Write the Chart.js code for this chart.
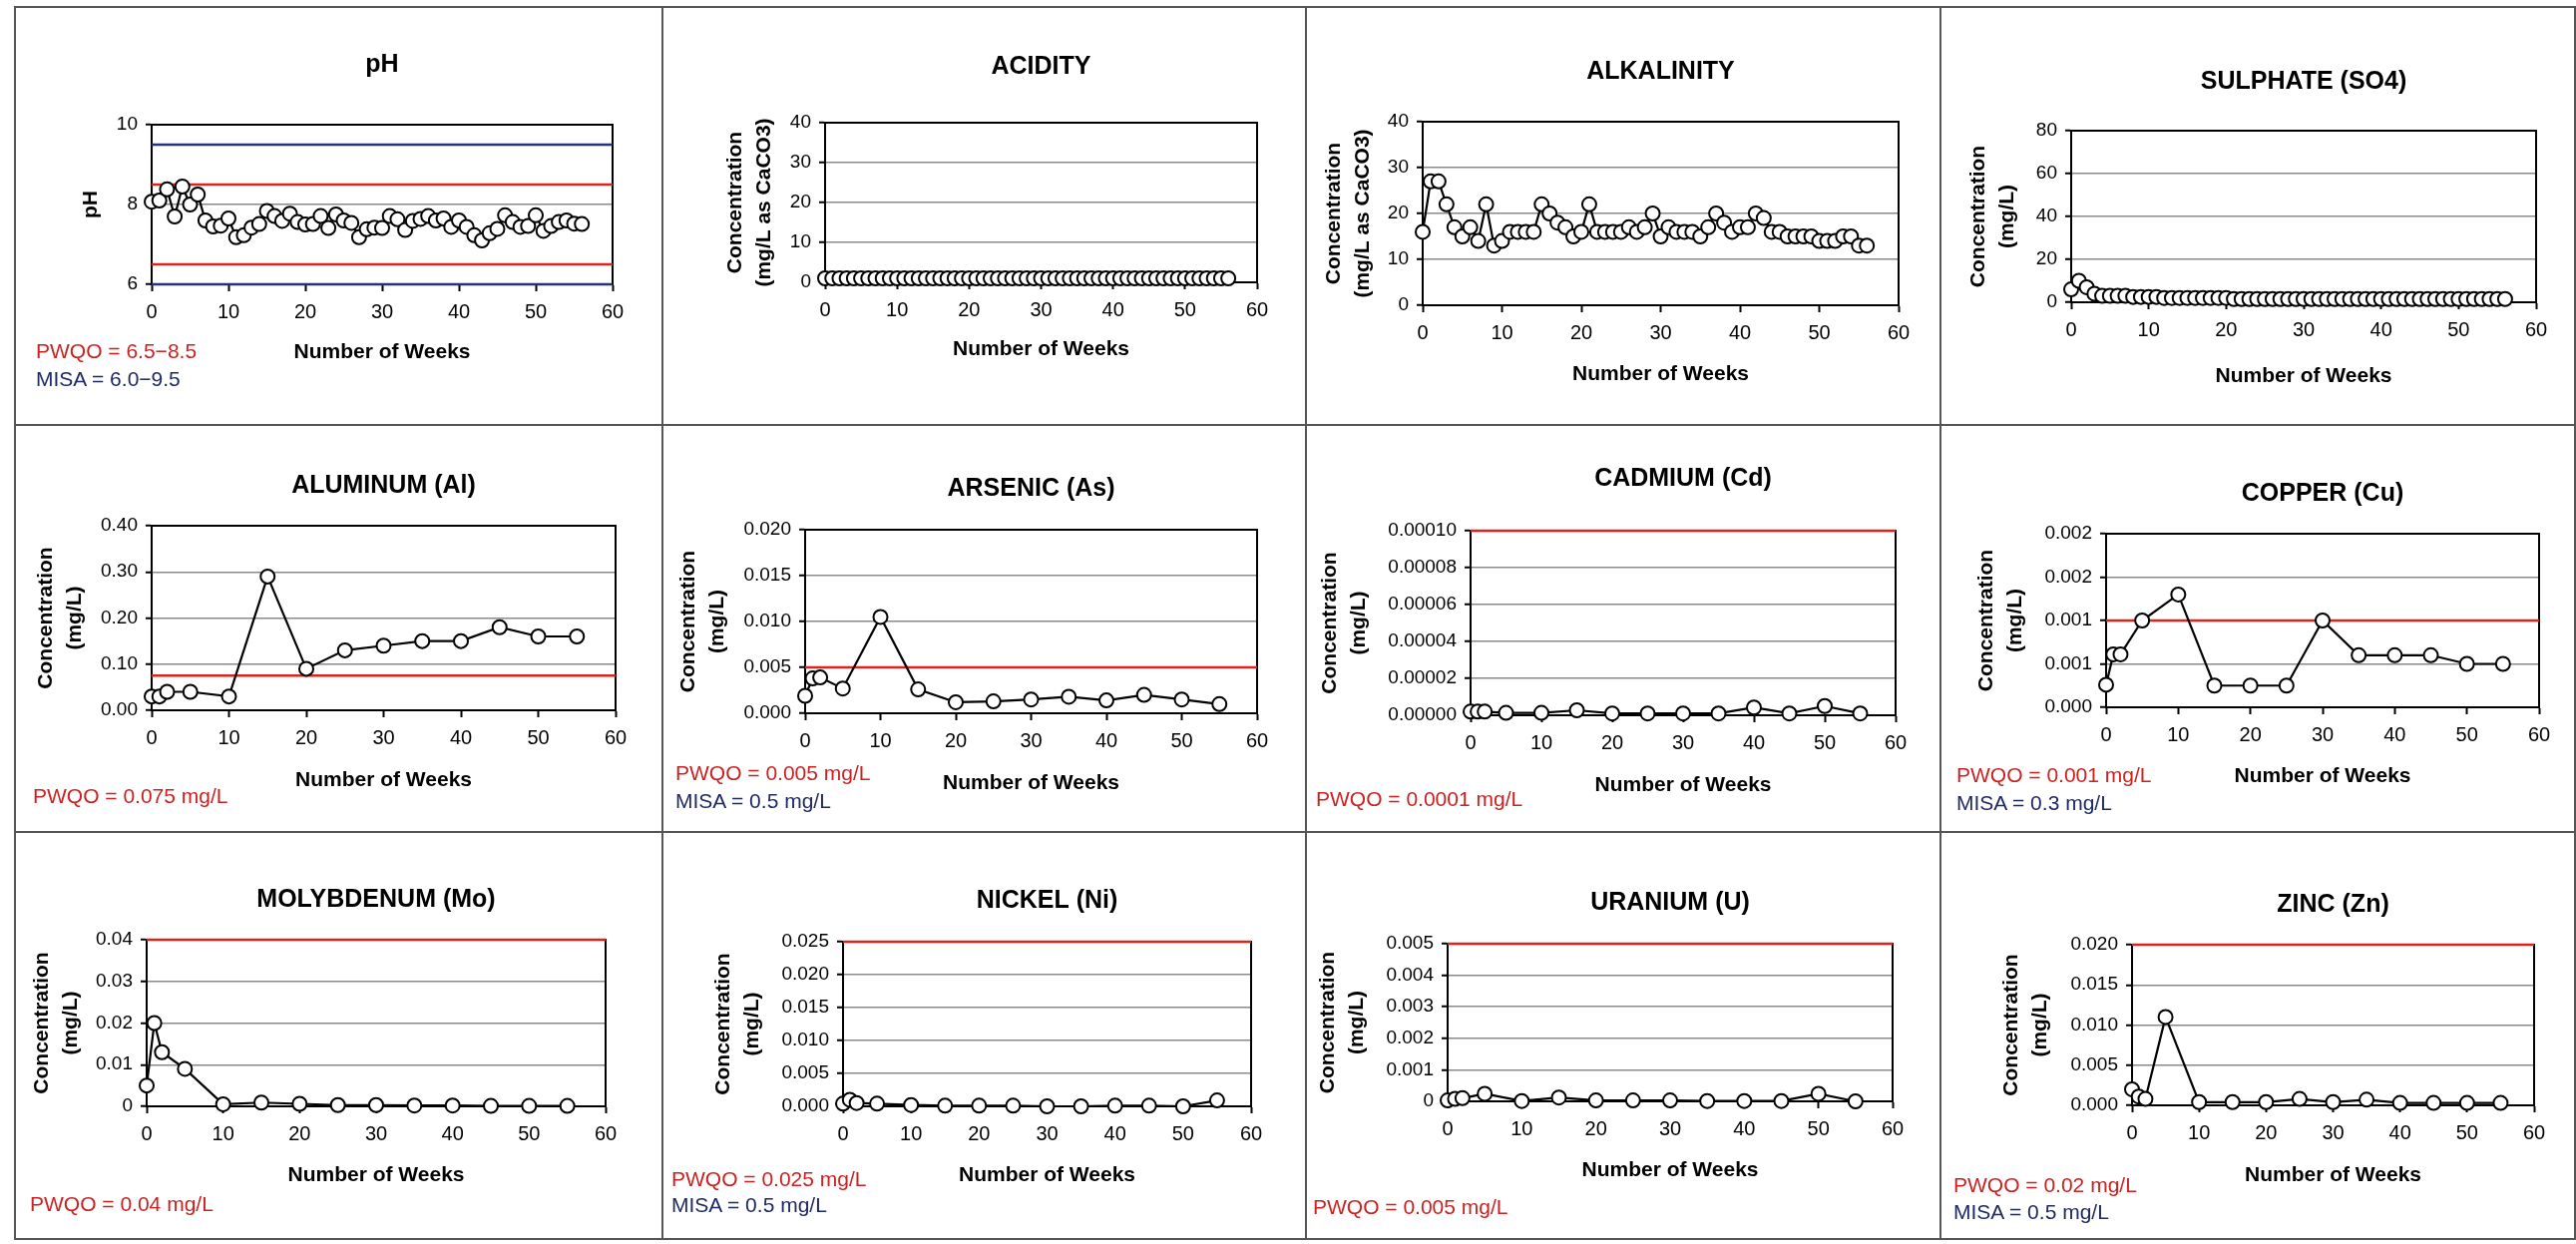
<!DOCTYPE html>
<html>
<head>
<meta charset="utf-8">
<title>Surface water monitoring results</title>
<script src="https://cdn.jsdelivr.net/npm/chart.js@4.4.1/dist/chart.umd.min.js"></script>
<style>
  html, body { margin: 0; padding: 0; background: #fff; }
  body { width: 2582px; height: 1247px; position: relative; overflow: hidden; font-family: "Liberation Sans", Arial, sans-serif; }
  #grid { position: absolute; left: 14px; top: 6px; width: 2566px; height: 1235px; border-left: 2px solid #555; border-top: 2px solid #555; }
  .panel { position: absolute; box-sizing: border-box; border-right: 2px solid #555; border-bottom: 2px solid #555; }
  .panel canvas { position: absolute; left: 0; top: 0; }
  .note { position: absolute; font-size: 21px; line-height: 24px; white-space: nowrap; }
  .pwqo { color: #cc2222; }
  .misa { color: #1f2a66; }
</style>
</head>
<body>
<div id="grid"></div>
<script>
// ---- data ----
const weeksWeekly = [0,1,2,3,4,5,6,7,8,9,10,11,12,13,14,15,16,17,18,19,20,21,22,23,24,25,26,27,28,29,30,31,32,33,34,35,36,37,38,39,40,41,42,43,44,45,46,47,48,49,50,51,52,53,54,55,56];
const weeksMetals = [0,1,2,5,10,15,20,25,30,35,40,45,50,55];

const phValues = [8.07,8.10,8.38,7.70,8.45,8.00,8.25,7.60,7.45,7.47,
  7.65,7.18,7.23,7.42,7.51,7.84,7.71,7.59,7.77,7.56,
  7.50,7.51,7.71,7.41,7.75,7.60,7.54,7.18,7.38,7.42,
  7.41,7.71,7.63,7.36,7.59,7.64,7.71,7.60,7.65,7.44,
  7.60,7.44,7.23,7.10,7.28,7.39,7.73,7.56,7.44,7.46,
  7.73,7.34,7.46,7.56,7.60,7.52,7.51];
const acidityValues = [1,1,1,1,1,1,1,1,1,1,1,1,1,1,1,1,1,1,1,1,1,1,1,1,1,1,1,1,1,1,
  1,1,1,1,1,1,1,1,1,1,1,1,1,1,1,1,1,1,1,1,1,1,1,1,1,1,1];
const alkalinityValues = [16,27,27,22,17,15,17,14,22,13,
  14,16,16,16,16,22,20,18,17,15,
  16,22,16,16,16,16,17,16,17,20,
  15,17,16,16,16,15,17,20,18,16,
  17,17,20,19,16,16,15,15,15,15,
  14,14,14,15,15,13,13];
const sulphateValues = [6,10,7,4,3,3,3,3,2.5,2.5,
  2.5,2.5,2,2,2,2,2,2,2,2,
  2,1.5,1.5,1.5,1.5,1.5,1.5,1.5,1.5,1.5,
  1.5,1.5,1.5,1.5,1.5,1.5,1.5,1.5,1.5,1.5,
  1.5,1.5,1.5,1.5,1.5,1.5,1.5,1.5,1.5,1.5,
  1.5,1.5,1.5,1.5,1.5,1.5,1.5];

const aluminumValues = [0.03,0.03,0.04,0.04,0.03,0.29,0.09,0.13,0.14,0.15,0.15,0.18,0.16,0.16];
const arsenicValues = [0.0019,0.0038,0.0039,0.0027,0.0105,0.0026,0.0012,0.0013,0.0015,0.0018,0.0014,0.0020,0.0015,0.0010];
const cadmiumValues = [0.000002,0.000002,0.000002,0.0000013,0.0000013,0.0000027,0.000001,0.000001,0.000001,0.000001,0.0000042,0.000001,0.000005,0.000001];
const copperValues = [0.00026,0.00061,0.00061,0.0010,0.0013,0.00025,0.00025,0.00025,0.0010,0.0006,0.0006,0.0006,0.0005,0.0005];
const molybdenumValues = [0.005,0.020,0.013,0.009,0.0005,0.0009,0.0006,0.0003,0.0003,0.0002,0.0002,0.0001,0.0001,0.0001];
const nickelValues = [0.0004,0.0010,0.0005,0.0004,0.0002,0.0001,0.0001,0.0001,0,0,0.0001,0.0001,0,0.0009];
const uraniumValues = [0.00003,0.00008,0.0001,0.00024,0.00001,0.00012,0.00003,0.00003,0.00003,0.00001,0.00001,0.00001,0.00024,0];
const zincValues = [0.002,0.0011,0.0008,0.011,0.0004,0.0004,0.0004,0.0008,0.0004,0.0007,0.0003,0.0003,0.0003,0.0003];

// guideline values (PWQO red, MISA blue) that fall inside each plot
const phPwqo = [6.5, 8.5];
const phMisa = [6.0, 9.5];
const aluminumPwqo = [0.075];
const arsenicPwqo = [0.005];
const cadmiumPwqo = [0.0001];
const copperPwqo = [0.001];
const molybdenumPwqo = [0.04];
const nickelPwqo = [0.025];
const uraniumPwqo = [0.005];
const zincPwqo = [0.02];

// tick labels
const xTickLabels = ["0","10","20","30","40","50","60"];
const phTicks = ["6","8","10"];
const acidityTicks = ["0","10","20","30","40"];
const alkalinityTicks = ["0","10","20","30","40"];
const sulphateTicks = ["0","20","40","60","80"];
const aluminumTicks = ["0.00","0.10","0.20","0.30","0.40"];
const arsenicTicks = ["0.000","0.005","0.010","0.015","0.020"];
const cadmiumTicks = ["0.00000","0.00002","0.00004","0.00006","0.00008","0.00010"];
const copperTicks = ["0.000","0.001","0.001","0.002","0.002"];
const molybdenumTicks = ["0","0.01","0.02","0.03","0.04"];
const nickelTicks = ["0.000","0.005","0.010","0.015","0.020","0.025"];
const uraniumTicks = ["0","0.001","0.002","0.003","0.004","0.005"];
const zincTicks = ["0.000","0.005","0.010","0.015","0.020"];

const concMg = ["Concentration", "(mg/L)"];
const concCaCO3 = ["Concentration", "(mg/L as CaCO3)"];

const panels = [
  { title: "pH", yTitle: "pH", weeks: weeksWeekly, values: phValues, y: [6, 10, 2], ticks: phTicks, pwqo: phPwqo, misa: phMisa,
    notes: [["pwqo", "PWQO = 6.5\u22128.5"], ["misa", "MISA = 6.0\u22129.5"]] },
  { title: "ACIDITY", yTitle: concCaCO3, weeks: weeksWeekly, values: acidityValues, y: [0, 40, 10], ticks: acidityTicks, pwqo: [], misa: [], notes: [] },
  { title: "ALKALINITY", yTitle: concCaCO3, weeks: weeksWeekly, values: alkalinityValues, y: [0, 40, 10], ticks: alkalinityTicks, pwqo: [], misa: [], notes: [] },
  { title: "SULPHATE (SO4)", yTitle: concMg, weeks: weeksWeekly, values: sulphateValues, y: [0, 80, 20], ticks: sulphateTicks, pwqo: [], misa: [], notes: [] },
  { title: "ALUMINUM (Al)", yTitle: concMg, weeks: weeksMetals, values: aluminumValues, y: [0, 0.4, 0.1], ticks: aluminumTicks, pwqo: aluminumPwqo, misa: [],
    notes: [["pwqo", "PWQO = 0.075 mg/L"]] },
  { title: "ARSENIC (As)", yTitle: concMg, weeks: weeksMetals, values: arsenicValues, y: [0, 0.02, 0.005], ticks: arsenicTicks, pwqo: arsenicPwqo, misa: [],
    notes: [["pwqo", "PWQO = 0.005 mg/L"], ["misa", "MISA = 0.5 mg/L"]] },
  { title: "CADMIUM (Cd)", yTitle: concMg, weeks: weeksMetals, values: cadmiumValues, y: [0, 0.0001, 0.00002], ticks: cadmiumTicks, pwqo: cadmiumPwqo, misa: [],
    notes: [["pwqo", "PWQO = 0.0001 mg/L"]] },
  { title: "COPPER (Cu)", yTitle: concMg, weeks: weeksMetals, values: copperValues, y: [0, 0.002, 0.0005], ticks: copperTicks, pwqo: copperPwqo, misa: [],
    notes: [["pwqo", "PWQO = 0.001 mg/L"], ["misa", "MISA = 0.3 mg/L"]] },
  { title: "MOLYBDENUM (Mo)", yTitle: concMg, weeks: weeksMetals, values: molybdenumValues, y: [0, 0.04, 0.01], ticks: molybdenumTicks, pwqo: molybdenumPwqo, misa: [],
    notes: [["pwqo", "PWQO = 0.04 mg/L"]] },
  { title: "NICKEL (Ni)", yTitle: concMg, weeks: weeksMetals, values: nickelValues, y: [0, 0.025, 0.005], ticks: nickelTicks, pwqo: nickelPwqo, misa: [],
    notes: [["pwqo", "PWQO = 0.025 mg/L"], ["misa", "MISA = 0.5 mg/L"]] },
  { title: "URANIUM (U)", yTitle: concMg, weeks: weeksMetals, values: uraniumValues, y: [0, 0.005, 0.001], ticks: uraniumTicks, pwqo: uraniumPwqo, misa: [],
    notes: [["pwqo", "PWQO = 0.005 mg/L"]] },
  { title: "ZINC (Zn)", yTitle: concMg, weeks: weeksMetals, values: zincValues, y: [0, 0.02, 0.005], ticks: zincTicks, pwqo: zincPwqo, misa: [],
    notes: [["pwqo", "PWQO = 0.02 mg/L"], ["misa", "MISA = 0.5 mg/L"]] }
];

// ---- page layout (pixels inside each panel) ----
const colLeft = [0, 649, 1294, 1930];
const colWidth = [649, 645, 636, 636];
const rowTop = [0, 419, 827];
const rowHeight = [419, 408, 408];

// plot box [left, top, right, bottom], title centre y, y-title first line centre x, x-title centre y, notes
const layouts = [
  { box: [136, 117, 598, 277], titleY: 57, yTitleX: 75, xTitleY: 345, noteX: 20, noteY: [344, 372] },
  { box: [162, 115, 595, 275], titleY: 59, yTitleX: 72, xTitleY: 342 },
  { box: [116, 114, 593, 298], titleY: 64, yTitleX: 27, xTitleY: 367 },
  { box: [130, 123, 596, 295], titleY: 74, yTitleX: 37, xTitleY: 369 },
  { box: [136, 100, 601, 285], titleY: 60, yTitleX: 30, xTitleY: 355, noteX: 17, noteY: [371] },
  { box: [142, 104, 595, 288], titleY: 63, yTitleX: 25, xTitleY: 358, noteX: 12, noteY: [348, 376] },
  { box: [164, 105, 590, 290], titleY: 53, yTitleX: 23, xTitleY: 360, noteX: 9, noteY: [374] },
  { box: [165, 108, 599, 282], titleY: 68, yTitleX: 45, xTitleY: 351, noteX: 15, noteY: [350, 378] },
  { box: [131, 107, 591, 274], titleY: 67, yTitleX: 26, xTitleY: 343, noteX: 14, noteY: [372] },
  { box: [180, 109, 589, 274], titleY: 68, yTitleX: 60, xTitleY: 343, noteX: 8, noteY: [347, 373] },
  { box: [141, 111, 587, 269], titleY: 70, yTitleX: 21, xTitleY: 338, noteX: 6, noteY: [375] },
  { box: [191, 112, 594, 273], titleY: 72, yTitleX: 70, xTitleY: 343, noteX: 12, noteY: [353, 380] }
];

Chart.defaults.font.family = '"Liberation Sans", Arial, sans-serif';
Chart.defaults.color = "#000";

const TITLE_LH = 25 * 1.2;
const YAXIS_LH = 21 * 1.38;
const XAXIS_LH = 21 * 1.2;

// frame round the plot, and the chart title centred over the plot area
const plotFrame = {
  id: "plotFrame",
  afterLayout(chart) {
    const a = chart.chartArea;
    if (chart.titleBlock) {
      chart.titleBlock.left = a.left;
      chart.titleBlock.right = a.right;
      chart.titleBlock.width = a.right - a.left;
    }
  },
  beforeDatasetsDraw(chart) {
    const { ctx, chartArea: a } = chart;
    ctx.save();
    ctx.strokeStyle = "#000";
    ctx.lineWidth = 2;
    ctx.strokeRect(a.left, a.top, a.right - a.left, a.bottom - a.top);
    ctx.restore();
  }
};

function limitLine(value, color) {
  return {
    data: [{ x: 0, y: value }, { x: 60, y: value }],
    borderColor: color,
    borderWidth: 2.5,
    pointRadius: 0,
    clip: false,
    order: 2
  };
}

function makePanel(p, lay, idx) {
  const col = idx % 4, row = Math.floor(idx / 4);
  const div = document.createElement("div");
  div.className = "panel";
  div.style.left = colLeft[col] + "px";
  div.style.top = rowTop[row] + "px";
  div.style.width = colWidth[col] + "px";
  div.style.height = rowHeight[row] + "px";
  document.getElementById("grid").appendChild(div);

  const W = colWidth[col] - 2, H = rowHeight[row] - 2;
  const canvas = document.createElement("canvas");
  canvas.width = W;
  canvas.height = H;
  div.appendChild(canvas);

  (p.notes || []).forEach((n, i) => {
    const t = document.createElement("div");
    t.className = "note " + n[0];
    t.textContent = n[1];
    t.style.left = lay.noteX + "px";
    t.style.top = (lay.noteY[i] - 12) + "px";
    div.appendChild(t);
  });

  const [L, T, R, B] = lay.box;
  const xh = lay.xTitleY - B + XAXIS_LH / 2;

  const datasets = [];
  p.pwqo.forEach(v => datasets.push(limitLine(v, "#d8261f")));
  p.misa.forEach(v => datasets.push(limitLine(v, "#27307a")));
  datasets.push({
    data: p.weeks.map((w, i) => ({ x: w, y: p.values[i] })),
    borderColor: "#000",
    borderWidth: 2.2,
    pointRadius: 7,
    pointBorderWidth: 2,
    pointBackgroundColor: "#fff",
    pointBorderColor: "#000",
    clip: false,
    order: 1
  });

  new Chart(canvas.getContext("2d"), {
    type: "line",
    data: { datasets: datasets },
    plugins: [plotFrame],
    options: {
      responsive: false,
      animation: false,
      devicePixelRatio: 1,
      layout: { padding: { left: 0, top: 0, right: W - R, bottom: H - B - xh } },
      plugins: {
        legend: { display: false },
        tooltip: { enabled: false },
        title: {
          display: true,
          text: p.title,
          color: "#000",
          font: { size: 25, weight: "bold", lineHeight: 1.2 },
          padding: { top: lay.titleY - TITLE_LH / 2, bottom: T - lay.titleY - TITLE_LH / 2 }
        }
      },
      scales: {
        x: {
          type: "linear",
          min: 0,
          max: 60,
          afterFit: s => { s.height = xh; },
          ticks: { stepSize: 10, font: { size: 20 }, color: "#000", padding: 9, maxRotation: 0, callback: (v, i) => xTickLabels[i] },
          grid: { drawOnChartArea: false, tickLength: 7, tickColor: "#000", tickWidth: 2 },
          border: { display: true, color: "#000", width: 2 },
          title: { display: true, text: "Number of Weeks", color: "#000", font: { size: 21, weight: "bold", lineHeight: 1.2 }, padding: { top: 0, bottom: 0 } }
        },
        y: {
          min: p.y[0],
          max: p.y[1],
          afterFit: s => { s.width = L; },
          ticks: { stepSize: p.y[2], font: { size: 19 }, color: "#000", padding: 8, callback: (v, i) => p.ticks[i] },
          grid: { color: "#8a8a8a", lineWidth: 1.5, tickLength: 6, tickColor: "#000", tickWidth: 2 },
          border: { display: true, color: "#000", width: 2 },
          title: { display: true, text: p.yTitle, color: "#000", font: { size: 21, weight: "bold", lineHeight: 1.38 }, padding: { top: lay.yTitleX - YAXIS_LH / 2, bottom: 0 } }
        }
      }
    }
  });
}

document.addEventListener("DOMContentLoaded", () => {
  panels.forEach((p, i) => makePanel(p, layouts[i], i));
});
</script>
</body>
</html>
